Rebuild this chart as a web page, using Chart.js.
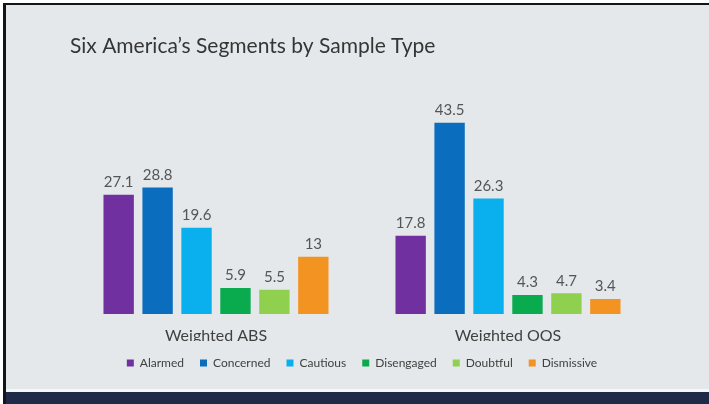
<!DOCTYPE html>
<html>
<head>
<meta charset="utf-8">
<script src="https://cdn.jsdelivr.net/npm/chart.js@4"></script>
<style>
  html, body { margin: 0; padding: 0; background: #ffffff; }
  #slide {
    position: absolute; left: 3px; top: 3px; width: 703px; height: 386px;
    border-left: 3px solid #151515; border-top: 2px solid #151515;
    background: #e4e8ea;
  }
  #stripe { position: absolute; left: 3px; top: 389px; width: 706px; height: 3px; background: #f4f6f7; border-left: 3px solid #151515; box-sizing: border-box; }
  #footer { position: absolute; left: 3px; top: 392px; width: 706px; height: 12px; background: #1f2a48; border-left: 3px solid #151515; box-sizing: border-box; }
  #wrap { position: absolute; left: 0; top: 0; width: 709px; height: 404px; }
</style>
</head>
<body>
<div id="slide"></div>
<div id="stripe"></div>
<div id="footer"></div>
<div id="wrap"><canvas id="myChart" width="709" height="404"></canvas></div>
<script>
// sample types on the x axis
const sampleTypes = ['Weighted ABS', 'Weighted OQS']

// one series per segment, values in percent
const alarmed = [27.1, 17.8]
const concerned = [28.8, 43.5]
const cautious = [19.6, 26.3]
const disengaged = [5.9, 4.3]
const doubtful = [5.5, 4.7]
const dismissive = [13, 3.4]

const segmentNames = ['Alarmed', 'Concerned', 'Cautious', 'Disengaged', 'Doubtful', 'Dismissive']
const segmentColors = ['#7030a0', '#0b6dbd', '#0ab0ee', '#0aab4f', '#8fd14f', '#f39322']
const segmentValues = [alarmed, concerned, cautious, disengaged, doubtful, dismissive]

const fontName = 'Lato, "Open Sans", sans-serif'

// writes each value above its bar
const valueLabels = {
  id: 'valueLabels',
  afterDatasetsDraw(chart) {
    const ctx = chart.ctx
    ctx.save()
    ctx.font = '15px ' + fontName
    ctx.fillStyle = '#555555'
    ctx.textAlign = 'center'
    ctx.textBaseline = 'bottom'
    chart.data.datasets.forEach((ds, i) => {
      chart.getDatasetMeta(i).data.forEach((bar, j) => {
        ctx.fillText(String(ds.data[j]), bar.x, bar.y - 5)
      })
    })
    ctx.restore()
  }
}

const ctx = document.getElementById('myChart').getContext('2d')
const myChart = new Chart(ctx, {
  type: 'bar',
  data: {
    labels: sampleTypes,
    datasets: segmentNames.map((name, i) => ({
      label: name,
      data: segmentValues[i],
      backgroundColor: segmentColors[i],
      borderWidth: 0,
      categoryPercentage: 0.8,
      barPercentage: 0.78
    }))
  },
  options: {
    responsive: false,
    animation: false,
    layout: { padding: { left: 70, right: 55, top: 0, bottom: 25 } },
    plugins: {
      title: {
        display: true,
        text: 'Six America\u2019s Segments by Sample Type',
        align: 'start',
        color: '#353535',
        font: { family: fontName, size: 21, weight: 'normal' },
        padding: { top: 34, bottom: 35 }
      },
      legend: {
        position: 'bottom',
        labels: {
          color: '#404040',
          font: { family: fontName, size: 12 },
          boxWidth: 7,
          boxHeight: 7,
          padding: 16
        }
      },
      tooltip: { enabled: false }
    },
    scales: {
      x: {
        grid: { display: false, drawTicks: false },
        border: { display: false },
        ticks: { color: '#404040', font: { family: fontName, size: 16 }, padding: 12 },
        afterFit(scale) { scale.height = 27 }
      },
      y: {
        display: false,
        min: 0,
        max: 50
      }
    }
  },
  plugins: [valueLabels]
})
</script>
</body>
</html>
